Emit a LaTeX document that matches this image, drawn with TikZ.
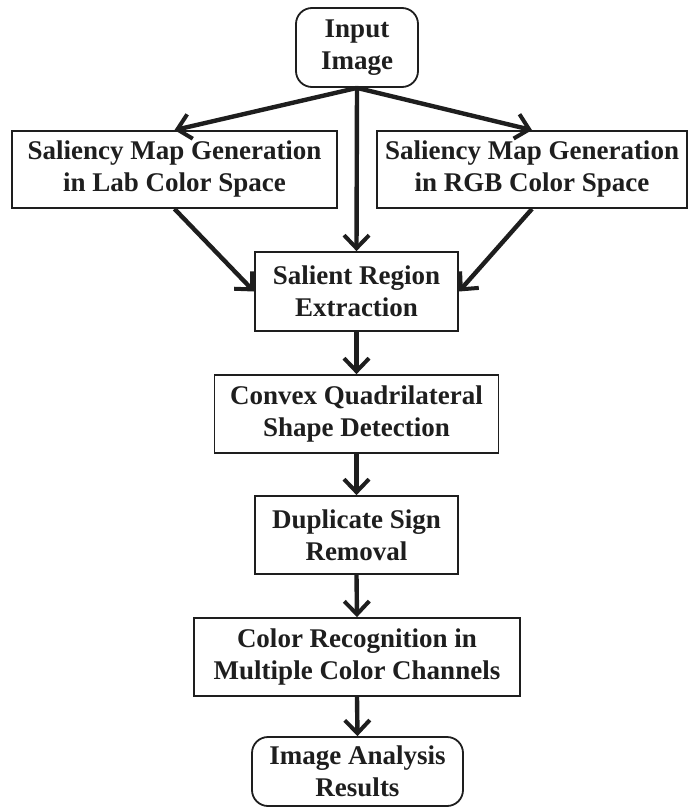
\documentclass[tikz,border=0pt]{standalone}
\usepackage{fontspec}
\setmainfont{Liberation Serif}
\usetikzlibrary{arrows.meta}
\definecolor{ink}{HTML}{1E1E1E}
\tikzset{
  box/.style={draw=ink, line width=1.8pt, inner sep=0pt, align=center, text=ink,
    font=\fontsize{27}{32}\selectfont\bfseries},
  rbox/.style={box, rounded corners=16pt},
  flow/.style={draw=ink, line width=4.4pt, -{Straight Barb[length=13pt,width=25pt,line width=4pt]}},
}
\begin{document}
\begin{tikzpicture}[x=1pt,y=-1pt]
\useasboundingbox (0,0) rectangle (689,809);
\node[rbox, minimum width=122pt, minimum height=79pt] (in) at (357,47.5) {Input\\Image};
\node[box, minimum width=325pt, minimum height=77pt] (lab) at (174.5,169.5) {Saliency Map Generation\\in Lab Color Space};
\node[box, minimum width=310pt, minimum height=77pt] (rgb) at (532,169.5) {Saliency Map Generation\\in RGB Color Space};
\node[box, minimum width=203pt, minimum height=79pt] (sal) at (356.5,291.5) {Salient Region\\Extraction};
\node[box, minimum width=284pt, minimum height=78pt] (cvx) at (356.5,414) {Convex Quadrilateral\\Shape Detection};
\node[box, minimum width=203pt, minimum height=78pt] (dup) at (356.5,535) {Duplicate Sign\\Removal};
\node[box, minimum width=326pt, minimum height=78pt] (col) at (357,657) {Color Recognition in\\Multiple Color Channels};
\node[rbox, minimum width=211pt, minimum height=69pt] (res) at (357.5,771.5) {Image Analysis\\Results};
\draw[flow] (in.south) -- (lab.north);
\draw[flow] (in.south) -- (rgb.north);
\draw[flow] (in.south) -- (sal.north);
\draw[flow] (lab.south) -- (sal.west);
\draw[flow] (rgb.south) -- (sal.east);
\draw[flow] (sal.south) -- (cvx.north);
\draw[flow] (cvx.south) -- (dup.north);
\draw[flow] (dup.south) -- (col.north);
\draw[flow] (col.south) -- (res.north);
\end{tikzpicture}
\end{document}
